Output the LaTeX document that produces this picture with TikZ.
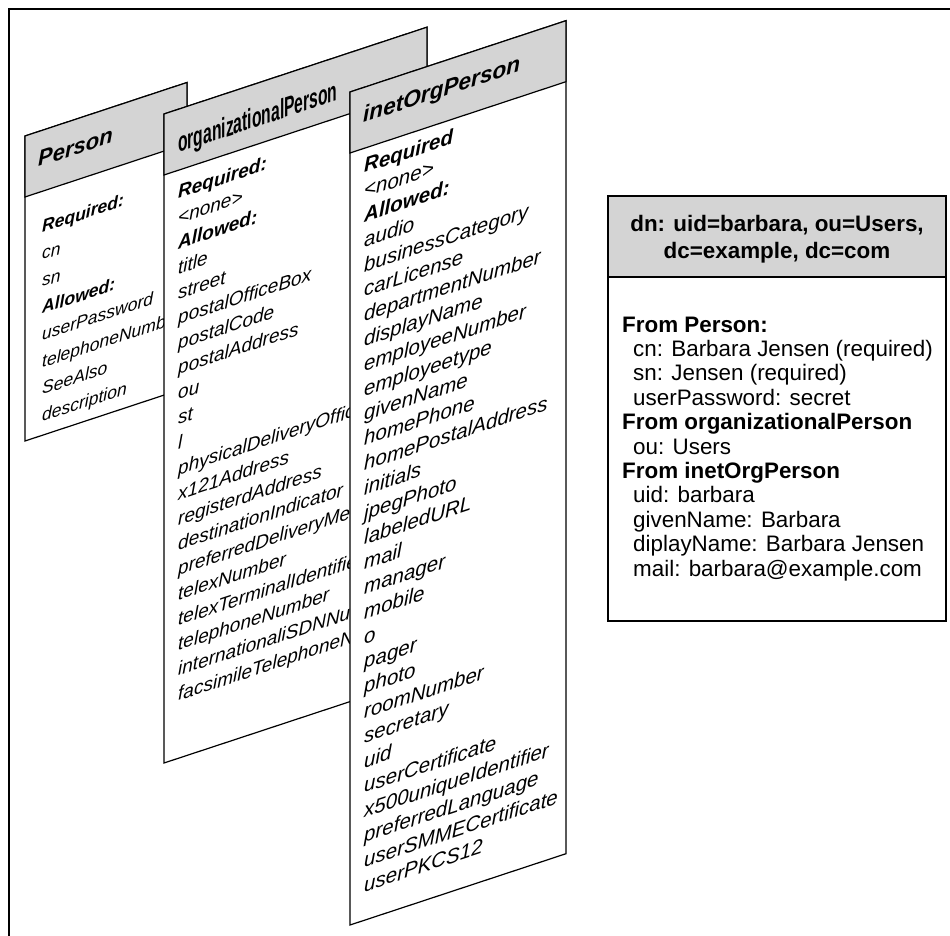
\documentclass[tikz,border=0pt]{standalone}
\usepackage{fontspec}
\setmainfont{Liberation Sans}
\definecolor{hdr}{RGB}{212,212,212}
\begin{document}
\begin{tikzpicture}[x=1pt,y=-1pt,
  sheet/.style={draw=black, line width=1.2pt, fill=white, line join=miter},
  band/.style={draw=black, line width=1.2pt, fill=hdr, line join=miter},
  slanttxt/.style={anchor=base west, inner sep=0pt, yslant=0.33},
  boxtxt/.style={anchor=base west, inner sep=0pt, font=\fontsize{22.4}{24}\selectfont},
  boxhead/.style={anchor=base west, inner sep=0pt, font=\fontsize{22.4}{24}\selectfont\bfseries},
]
\useasboundingbox (0,0) rectangle (950,936);
\draw[line width=1.5pt] (9,936) -- (9,9) -- (950,9);

% ---------- Person sheet ----------
\draw[sheet] (25,136) -- (187,82.5) -- (187,387.5) -- (25,441) -- cycle;
\draw[band] (25,136) -- (187,82.5) -- (187,143.5) -- (25,197) -- cycle;
\node[slanttxt, font=\fontsize{22}{24}\selectfont\bfseries\itshape] (ph) at (38,167) {Person};
\foreach \t [count=\i from 0] in {{\bfseries Required:}, cn, sn, {\bfseries Allowed:}, userPassword, telephoneNumber, SeeAlso, description}
  \node[slanttxt, font=\fontsize{17.5}{20}\selectfont\itshape] (pa\i) at (42, 233+27*\i) {\t};

% ---------- organizationalPerson sheet ----------
\draw[sheet] (164,114) -- (427,27.2) -- (427,676.2) -- (164,763) -- cycle;
\draw[band] (164,114) -- (427,27.2) -- (427,88.2) -- (164,175) -- cycle;
\node[slanttxt, xscale=0.56, font=\fontsize{28}{30}\selectfont\bfseries] (oh) at (178,153) {organizationalPerson};
\foreach \t [count=\i from 0] in {{\bfseries Required:}, <none>, {\bfseries Allowed:}, title, street, postalOfficeBox, postalCode, postalAddress, ou, st, l, physicalDeliveryOfficeName, x121Address, registerdAddress, destinationIndicator, preferredDeliveryMethod, telexNumber, telexTerminalIdentifier, telephoneNumber, internationaliSDNNumber, facsimileTelephoneNumber}
  \node[slanttxt, font=\fontsize{19}{22}\selectfont\itshape] (oa\i) at (178, 199+25.1*\i) {\t};

% ---------- inetOrgPerson sheet ----------
\draw[sheet] (350,92) -- (566,20.7) -- (566,853.7) -- (350,925) -- cycle;
\draw[band] (350,92) -- (566,20.7) -- (566,81.7) -- (350,153) -- cycle;
\node[slanttxt, font=\fontsize{22.6}{24}\selectfont\bfseries\itshape] (ih) at (363,123) {inetOrgPerson};
\foreach \t [count=\i from 0] in {{\bfseries Required}, <none>, {\bfseries Allowed:}, audio, businessCategory, carLicense, departmentNumber, displayName, employeeNumber, employeetype, givenName, homePhone, homePostalAddress, initials, jpegPhoto, labeledURL, mail, manager, mobile, o, pager, photo, roomNumber, secretary, uid, userCertificate, x500uniqueIdentifier, preferredLanguage, userSMMECertificate, userPKCS12}
  \node[slanttxt, font=\fontsize{20.5}{23}\selectfont\itshape] (ia\i) at (364, 173+24.8*\i) {\t};

% ---------- entry box ----------
\draw[sheet] (608,196) rectangle (946,621);
\draw[band] (608,196) rectangle (946,277);
\node[anchor=base, inner sep=0pt, font=\fontsize{22.4}{24}\selectfont\bfseries] (dn1) at (777,231) {dn: uid=barbara, ou=Users,};
\node[anchor=base, inner sep=0pt, font=\fontsize{22.4}{24}\selectfont\bfseries] (dn2) at (777,258) {dc=example, dc=com};
\node[boxhead] (e1) at (622,332) {From Person:};
\node[boxtxt] (e2) at (633,356.4) {cn: Barbara Jensen (required)};
\node[boxtxt] (e3) at (633,380.8) {sn: Jensen (required)};
\node[boxtxt] (e4) at (633,405.2) {userPassword: secret};
\node[boxhead] (e5) at (622,429.6) {From organizationalPerson};
\node[boxtxt] (e6) at (633,454) {ou: Users};
\node[boxhead] (e7) at (622,478.4) {From inetOrgPerson};
\node[boxtxt] (e8) at (633,502.8) {uid: barbara};
\node[boxtxt] (e9) at (633,527.2) {givenName: Barbara};
\node[boxtxt] (e10) at (633,551.6) {diplayName: Barbara Jensen};
\node[boxtxt] (e11) at (633,576) {mail: barbara@example.com};
\end{tikzpicture}
\end{document}
